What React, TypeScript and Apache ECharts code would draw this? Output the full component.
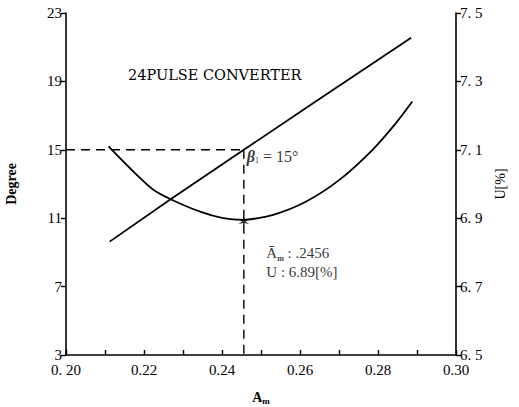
import React, { useEffect, useRef } from "react";
import * as echarts from "echarts";

// Straight line: beta1 (Degree, left axis) vs A_m
const lineAm = [0.2112, 0.2271, 0.2456, 0.2642, 0.2885];
const lineDeg = [9.63, 12.15, 15.0, 17.85, 21.55];

// Curve: U[%] (right axis) vs A_m
const curveAm = [0.2109, 0.2173, 0.2224, 0.2271, 0.2344, 0.2403, 0.2454, 0.2531, 0.2616, 0.2701, 0.2786, 0.2846, 0.2888];
const curveU = [7.11, 7.036, 6.983, 6.954, 6.919, 6.9, 6.895, 6.91, 6.949, 7.012, 7.1, 7.178, 7.241];

// Optimum point
const optAm = 0.2456;
const optDeg = 15;
const optU = 6.89;

const xMin = 0.2, xMax = 0.3, xStep = 0.01;
const degMin = 3, degMax = 23, degStep = 4;
const uMin = 6.5, uMax = 7.5, uStep = 0.2;

const titleText = "24PULSE CONVERTER";

const FONT = "'Liberation Serif', 'DejaVu Serif', serif";

function starPath(): string {
  const pts: string[] = [];
  for (let i = 0; i < 12; i++) {
    const r = i % 2 === 0 ? 10 : 3;
    const a = (Math.PI / 6) * i - Math.PI / 2;
    pts.push(`${(r * Math.cos(a)).toFixed(2)},${(r * Math.sin(a)).toFixed(2)}`);
  }
  return "path://M" + pts.join(" L") + " Z";
}

export default function App() {
  const ref = useRef<HTMLDivElement>(null);
  useEffect(() => {
    if (!ref.current) return;
    const chart = echarts.init(ref.current, null, { renderer: "svg" });
    const axisLine = { lineStyle: { color: "#000", width: 1.6 } };
    const labelBase = { color: "#000", fontFamily: FONT, fontSize: 15 };
    chart.setOption({
      animation: false,
      backgroundColor: "#fff",
      grid: { left: 66, right: 63, top: 13, bottom: 52, containLabel: false, outerBoundsMode: "none" },
      xAxis: {
        type: "value",
        min: xMin,
        max: xMax,
        interval: xStep,
        axisLine: { ...axisLine, onZero: false },
        axisTick: { inside: true, length: 5, lineStyle: { color: "#000", width: 1.4 } },
        splitLine: { show: false },
        axisLabel: {
          ...labelBase,
          margin: 7,
          formatter: (v: number) => {
            const k = Math.round(v * 100);
            if (k % 2 !== 0) return "";
            const s = (k / 100).toFixed(2);
            return k === 20 ? s.replace(".", ". ") : s;
          },
        },
        name: "{a|A}{s|m}",
        nameLocation: "middle",
        nameGap: 35,
        nameTextStyle: {
          rich: {
            a: { fontFamily: FONT, fontSize: 14, color: "#000", fontWeight: "bold" },
            s: { fontFamily: FONT, fontSize: 9, color: "#000", fontWeight: "bold", verticalAlign: "bottom", padding: [6, 0, 0, 0] },
          },
        },
      },
      yAxis: [
        {
          type: "value",
          min: degMin,
          max: degMax,
          interval: degStep,
          position: "left",
          axisLine: { show: true, ...axisLine },
          axisTick: { show: true, length: 5, lineStyle: { color: "#000", width: 1.4 } },
          splitLine: { show: false },
          axisLabel: { ...labelBase, margin: 4 },
          name: "Degree",
          nameLocation: "middle",
          nameRotate: 90,
          nameGap: 48,
          nameTextStyle: { fontFamily: FONT, fontSize: 14, fontWeight: "bold", color: "#000" },
        },
        {
          type: "value",
          min: uMin,
          max: uMax,
          interval: uStep,
          position: "right",
          axisLine: { show: true, ...axisLine },
          axisTick: { show: true, length: 5, lineStyle: { color: "#000", width: 1.4 } },
          splitLine: { show: false },
          axisLabel: {
            ...labelBase,
            margin: 4,
            formatter: (v: number) => v.toFixed(1).replace(".", ". "),
          },
          name: "U[%]",
          nameLocation: "middle",
          nameRotate: 90,
          nameGap: 36,
          nameTextStyle: { fontFamily: FONT, fontSize: 14, color: "#000" },
        },
      ],
      series: [
        {
          type: "line",
          yAxisIndex: 0,
          data: lineAm.map((x, i) => [x, lineDeg[i]]),
          showSymbol: false,
          lineStyle: { color: "#000", width: 1.8 },
          z: 3,
        },
        {
          type: "line",
          yAxisIndex: 1,
          smooth: 0.25,
          data: curveAm.map((x, i) => [x, curveU[i]]),
          showSymbol: false,
          lineStyle: { color: "#000", width: 1.8 },
          z: 3,
        },
        {
          type: "line",
          yAxisIndex: 0,
          data: [[xMin, optDeg], [optAm, optDeg]],
          showSymbol: false,
          lineStyle: { color: "#000", width: 1.4, type: [9, 6] },
          z: 2,
        },
        {
          type: "line",
          yAxisIndex: 0,
          data: [[optAm, optDeg], [optAm, degMin]],
          showSymbol: false,
          lineStyle: { color: "#000", width: 1.4, type: [9, 6] },
          z: 2,
        },
        {
          type: "scatter",
          yAxisIndex: 1,
          data: [[optAm, optU]],
          symbol: starPath(),
          symbolSize: 11,
          itemStyle: { color: "#000" },
          z: 4,
          label: {
            show: true,
            color: "#000",
            position: [28, 27],
            align: "left",
            formatter: () => `{a|Ā}{s|m}{t| : ${String(optAm).replace(/^0/, "")}}\n{t|U : ${optU.toFixed(2)}[%]}`,
            rich: {
              a: { fontFamily: FONT, fontSize: 15, color: "#000", lineHeight: 19 },
              s: { fontFamily: FONT, fontSize: 8, color: "#000", fontWeight: "bold", verticalAlign: "bottom", lineHeight: 19 },
              t: { fontFamily: FONT, fontSize: 15, color: "#000", lineHeight: 19 },
            },
          },
        },
        {
          type: "scatter",
          yAxisIndex: 0,
          data: [[optAm, optDeg]],
          symbolSize: 0,
          label: {
            show: true,
            color: "#000",
            position: [3, -1],
            align: "left",
            verticalAlign: "top",
            formatter: () => `{b|β}{s|1}{t| = ${optDeg}°}`,
            rich: {
              b: { fontFamily: FONT, fontSize: 16, color: "#000", fontStyle: "italic", fontWeight: "bold" },
              s: { fontFamily: FONT, fontSize: 8, color: "#000", verticalAlign: "bottom", padding: [6, 0, 0, 0] },
              t: { fontFamily: FONT, fontSize: 16, color: "#000" },
            },
          },
        },
      ],
      graphic: [
        {
          type: "text",
          left: 128,
          top: 67,
          style: { text: titleText, fontFamily: "'DejaVu Serif', serif", fontSize: 14.5, fill: "#000" },
        },
      ],
    });
    return () => chart.dispose();
  }, []);
  return <div ref={ref} style={{ position: "fixed", left: 0, top: 0, width: 519, height: 407 }} />;
}
